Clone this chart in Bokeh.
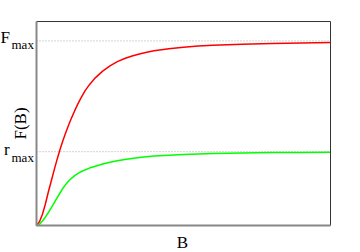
from bokeh.plotting import figure
from bokeh.models import Range1d
from bokeh.core.properties import value
from bokeh.embed import file_html
from bokeh.resources import INLINE
import math

# Values (B in arbitrary units 0..10)
red_B = [0, 0.1, 0.2, 0.3, 0.4, 0.5, 0.6, 0.7, 0.8, 0.9, 1.0, 1.1, 1.2, 1.3, 1.4, 1.5,
         1.65, 1.8, 2.0, 2.25, 2.5, 2.75, 3.0, 3.25, 3.5, 3.75, 4.0, 4.5, 5.0, 5.5,
         6.0, 7.0, 8.0, 9.0, 10.0]
red_F = [0, 0.02, 0.06, 0.115, 0.18, 0.24, 0.30, 0.358, 0.412, 0.46, 0.505, 0.547,
         0.586, 0.622, 0.656, 0.687, 0.729, 0.763, 0.80, 0.836, 0.865, 0.888, 0.905,
         0.918, 0.929, 0.939, 0.947, 0.958, 0.966, 0.972, 0.977, 0.982, 0.986, 0.989, 0.991]

green_B = [0, 0.1, 0.2, 0.3, 0.4, 0.5, 0.6, 0.7, 0.8, 0.9, 1.0, 1.1, 1.2, 1.3, 1.4, 1.5,
           1.65, 1.8, 2.0, 2.25, 2.5, 2.75, 3.0, 3.5, 4.0, 4.5, 5.0, 6.0, 7.0, 8.0,
           9.0, 10.0]
green_F = [0, 0.007, 0.024, 0.045, 0.069, 0.095, 0.123, 0.150, 0.176, 0.202, 0.224,
           0.242, 0.257, 0.27, 0.281, 0.29, 0.301, 0.311, 0.321, 0.333, 0.343, 0.351,
           0.358, 0.368, 0.376, 0.381, 0.385, 0.390, 0.393, 0.395, 0.396, 0.397]

F_max = 1.0
r_max = 0.4
B_end = 10.0
F_top = 1.105

x_label = "B"
y_label = "F(B)"

SERIF = "Liberation Serif"

# frame covers the whole canvas; data B=0..10 -> px 36..330, F=0..1.105 -> px 225..21
sx = 29.4
sy = 184.6
p = figure(width=360, height=252, output_backend="svg", toolbar_location=None,
           x_axis_location=None, y_axis_location=None,
           x_range=Range1d(-36 / sx, 324 / sx), y_range=Range1d(-27 / sy, 225 / sy),
           min_border=0)
p.grid.visible = False
p.outline_line_color = None
p.background_fill_color = "white"
p.border_fill_color = "white"

# dotted reference levels
for lvl in (F_max, r_max):
    p.line([0, B_end], [lvl, lvl], line_color="#aaaaaa", line_width=1, line_dash="1 2")

p.line(red_B, red_F, line_color="#ff0000", line_width=1.5)
p.line(green_B, green_F, line_color="#00ff00", line_width=1.5)

# frame: top/right dark, left/bottom grey
p.line([0, B_end, B_end], [F_top, F_top, 0], line_color="#333333", line_width=1)
p.line([0, 0, B_end], [F_top, 0, 0], line_color="#888888", line_width=2)

def lab(x, y, t, size, align="left", angle=0.0):
    p.text(x=[x], y=[y], text=[t], text_font=value(SERIF), text_font_size=size,
           text_color="black", text_align=align, text_baseline="middle", angle=angle)

lab((0 - 36) / sx, (225 - 36.5) / sy, "F", "17px")
lab((11 - 36) / sx, (225 - 44.0) / sy, "max", "13px")
lab((3.5 - 36) / sx, (225 - 148.5) / sy, "r", "17px")
lab((11 - 36) / sx, (225 - 157.0) / sy, "max", "13px")
lab((20 - 36) / sx, (225 - 123) / sy, y_label, "17px", align="center", angle=math.pi / 2)
lab((182 - 36) / sx, (225 - 242.3) / sy, x_label, "17px", align="center")

open("out.html", "w").write(file_html(p, INLINE))
